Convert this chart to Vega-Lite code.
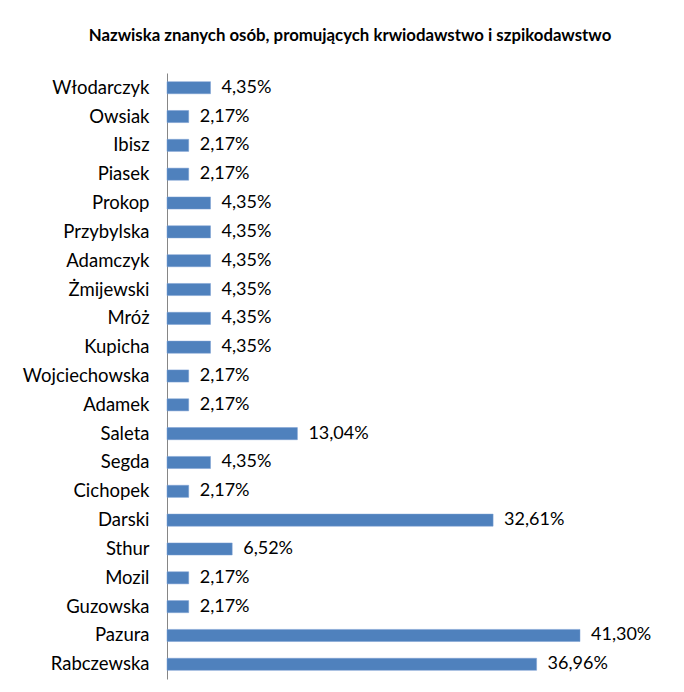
{
  "$schema": "https://vega.github.io/schema/vega-lite/v6.json",
  "autosize": {"type": "none"},
  "width": 450,
  "height": 606,
  "padding": {"left": 167, "top": 73, "right": 67, "bottom": 13},
  "background": "white",
  "config": {
    "view": {"stroke": null},
    "font": "Lato",
    "locale": {"number": {"decimal": ",", "thousands": " ", "grouping": [3], "currency": ["", " zł"]}}
  },
  "title": {
    "text": "Nazwiska znanych osób, promujących krwiodawstwo i szpikodawstwo",
    "font": "Lato",
    "fontSize": 16.8,
    "fontWeight": "bold",
    "color": "#000000",
    "anchor": "middle",
    "dx": -42,
    "offset": 28
  },
  "data": {
    "values": [
      {"name": "Włodarczyk", "value": 0.0435},
      {"name": "Owsiak", "value": 0.0217},
      {"name": "Ibisz", "value": 0.0217},
      {"name": "Piasek", "value": 0.0217},
      {"name": "Prokop", "value": 0.0435},
      {"name": "Przybylska", "value": 0.0435},
      {"name": "Adamczyk", "value": 0.0435},
      {"name": "Żmijewski", "value": 0.0435},
      {"name": "Mróż", "value": 0.0435},
      {"name": "Kupicha", "value": 0.0435},
      {"name": "Wojciechowska", "value": 0.0217},
      {"name": "Adamek", "value": 0.0217},
      {"name": "Saleta", "value": 0.1304},
      {"name": "Segda", "value": 0.0435},
      {"name": "Cichopek", "value": 0.0217},
      {"name": "Darski", "value": 0.3261},
      {"name": "Sthur", "value": 0.0652},
      {"name": "Mozil", "value": 0.0217},
      {"name": "Guzowska", "value": 0.0217},
      {"name": "Pazura", "value": 0.413},
      {"name": "Rabczewska", "value": 0.3696}
    ]
  },
  "encoding": {
    "y": {
      "field": "name",
      "type": "nominal",
      "sort": null,
      "scale": {"paddingInner": 0.58, "paddingOuter": 0.3},
      "axis": {
        "title": null,
        "ticks": false,
        "domainColor": "#868686",
        "domainWidth": 1,
        "labelFont": "Lato",
        "labelFontSize": 18.5,
        "labelColor": "#000000",
        "labelPadding": 18
      }
    },
    "x": {
      "field": "value",
      "type": "quantitative",
      "scale": {"domain": [0, 0.45], "nice": false},
      "axis": null
    }
  },
  "layer": [
    {
      "mark": {"type": "bar", "color": "#4f81bd", "stroke": "#7a9fd3", "strokeWidth": 0.5}
    },
    {
      "mark": {"type": "text", "align": "left", "baseline": "middle", "dx": 11, "fontSize": 18, "font": "Lato", "color": "#000000"},
      "encoding": {"text": {"field": "value", "type": "quantitative", "format": ".2%"}}
    }
  ]
}
